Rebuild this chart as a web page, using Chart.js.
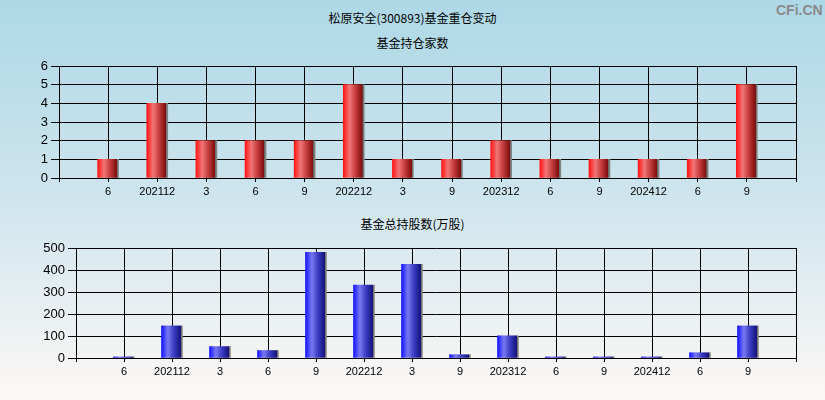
<!DOCTYPE html>
<html>
<head>
<meta charset="utf-8">
<script src="https://cdn.jsdelivr.net/npm/chart.js@4/dist/chart.umd.min.js"></script>
<style>
  html, body { margin:0; padding:0; }
  body { width:825px; height:400px; overflow:hidden; position:relative;
         background:linear-gradient(to bottom, #add8e6 0%, #cfe5ee 50%, #fdf8f5 100%);
         font-family:"Noto Sans CJK SC", "Liberation Sans", sans-serif; }
  .title { position:absolute; left:0; width:825px; text-align:center; font-size:12px; color:#000; line-height:14px; }
  #logo { position:absolute; left:776px; top:2px; font:bold 14px "Liberation Sans", Arial, sans-serif; color:#8a8a8a; }
  canvas { position:absolute; left:0; }
</style>
</head>
<body>
<div class="title" style="top:11px">松原安全(300893)基金重仓变动</div>
<div class="title" style="top:36px">基金持仓家数</div>
<div class="title" style="top:217px">基金总持股数(万股)</div>
<div id="logo">CFi.CN</div>
<canvas id="chartCount" width="825" height="150" style="top:50px"></canvas>
<canvas id="chartShares" width="825" height="160" style="top:230px"></canvas>
<script>
// --------------------
// DATA
// --------------------
const quarterLabels = ['6','202112','3','6','9','202212','3','9','202312','6','9','202412','6','9'];
const fundCounts = [1,4,2,2,2,5,1,1,2,1,1,1,1,5];          // 基金持仓家数
const fundShares = [5,146,52,34,480,331,426,15,101,5,5,5,24,146]; // 基金总持股数(万股)
const countTicks = [0,1,2,3,4,5,6];
const shareTicks = [0,100,200,300,400,500];

// empty slot at both ends, like the original
function pad(arr, blank){ return [blank, ...arr, blank]; }

// bar shading: bright left, light middle, dark right, grey edge
function barShade(stops){
  return function(c){
    const chart = c.chart;
    const x = chart.scales.x;
    if(!x || c.dataIndex===undefined) return stops[0];
    const cx = x.getPixelForValue(c.dataIndex);
    if(!isFinite(cx)) return stops[0];
    const g = chart.ctx.createLinearGradient(cx-10.5, 0, cx+10.5, 0);
    g.addColorStop(0, stops[0]);
    g.addColorStop(0.3, stops[1]);
    g.addColorStop(0.6, stops[2]);
    g.addColorStop(0.91, stops[3]);
    g.addColorStop(0.92, '#666666');
    g.addColorStop(1, '#8c8c8c');
    return g;
  };
}
const redStops = ['#ff1414','#f27676','#c23a3a','#7c0c0c'];
const blueStops = ['#1414ff','#7878f2','#3a3ac2','#14147c'];

Chart.defaults.font.family = '"Liberation Sans", Arial, sans-serif';
Chart.defaults.color = '#000';
Chart.defaults.animation = false;

function makeChart(id, values, ticks, stops, leftW, topPad, axisH){
  return new Chart(document.getElementById(id), {
    type:'bar',
    data:{ labels:pad(quarterLabels,''), datasets:[
      { data:pad(values,null), backgroundColor:barShade(stops), barThickness:21, borderWidth:0 }
    ]},
    options:{
      responsive:false,
      layout:{ padding:{ top:topPad, right:29, left:0, bottom:0 } },
      plugins:{ legend:{display:false}, tooltip:{enabled:false}, title:{display:false} },
      scales:{
        x:{
          offset:false,
          grid:{ offset:false, color:'#000', lineWidth:1, tickLength:4, drawTicks:true },
          border:{ color:'#000', width:1 },
          ticks:{ font:{size:11}, padding:3, maxRotation:0, autoSkip:false },
          afterFit:s=>{ s.height = axisH; }
        },
        y:{
          min:ticks[0], max:ticks[ticks.length-1],
          afterBuildTicks:s=>{ s.ticks = ticks.map(v=>({value:v})); },
          grid:{ color:'#000', lineWidth:1, tickLength:8 },
          border:{ color:'#000', width:1 },
          ticks:{ font:{size:13}, padding:3 },
          afterFit:s=>{ s.width = leftW; }
        }
      }
    }
  });
}

const countChart = makeChart('chartCount', fundCounts, countTicks, redStops, 59, 16, 22);
const sharesChart = makeChart('chartShares', fundShares, shareTicks, blueStops, 76, 18, 32);
</script>
</body>
</html>
